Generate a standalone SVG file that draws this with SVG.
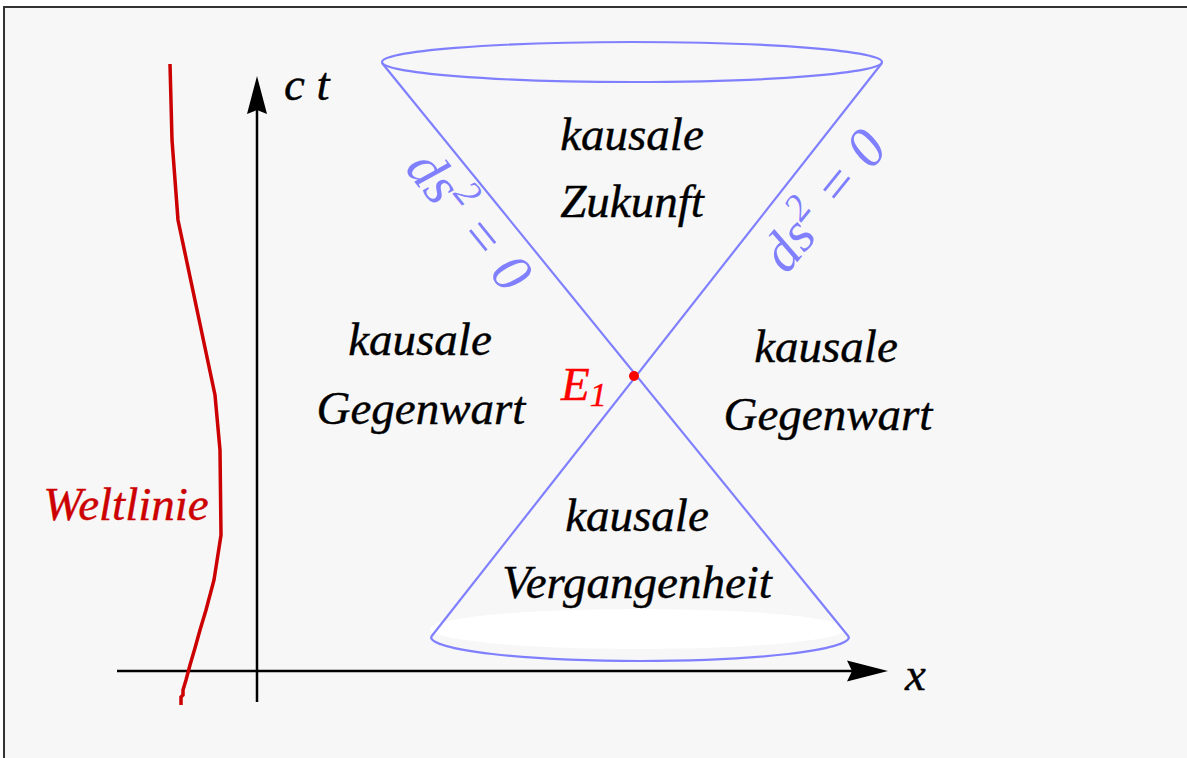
<svg xmlns="http://www.w3.org/2000/svg" width="1187" height="758" viewBox="0 0 1187 758">
<style>
.lbl{font-family:"Liberation Serif","Times New Roman",serif;font-style:italic;font-size:47px;fill:#000;stroke:#000;stroke-width:0.4}
.red{fill:#ff0000;stroke:#ff0000}
.dred{fill:#cc0000;stroke:#cc0000}
.cone{fill:none;stroke:#8080ff;stroke-width:2.2}
.ds{font-family:"Liberation Serif","Times New Roman",serif;font-style:italic;font-size:56px;fill:#8080ff}
.axis{stroke:#000;stroke-width:2.5;fill:none}
</style>
<rect x="0" y="0" width="1187" height="758" fill="#ffffff"/>
<rect x="4" y="7" width="1200" height="770" fill="#f7f7f7" stroke="#333" stroke-width="2"/>
<g id="axes">
<line class="axis" x1="257" y1="702" x2="257" y2="100"/>
<path d="M257,76 L267,114 L257,110 L247,114 Z" fill="#000"/>
<line class="axis" x1="117" y1="671" x2="860" y2="671"/>
<path d="M888,671 L847,660.5 L852,671 L847,681.5 Z" fill="#000"/>
<text class="lbl" x="284" y="100" font-size="40">c t</text>
<text class="lbl" x="905" y="690" font-size="40">x</text>
</g>
<g id="worldline">
<path d="M170,64 L172,140 L178,220 L215,395 L220,450 L221,535 L214,580 L206,610 L200,630 L195,648 L190,665 L186,680 L183,690 L183,695 L181,697 L181,705" fill="none" stroke="#cc0000" stroke-width="3.5"/>
<text class="lbl dred" x="126" y="520" text-anchor="middle" font-size="48">Weltlinie</text>
</g>
<g id="cone">
<ellipse cx="638" cy="629" rx="208" ry="20" fill="#ffffff"/>
<ellipse class="cone" cx="632" cy="62" rx="250" ry="20"/>
<path class="cone" d="M431,637 A209,24 0 0 0 849,637"/>
<line class="cone" x1="382" y1="63" x2="849" y2="637"/>
<line class="cone" x1="882" y1="63" x2="431" y2="637"/>
</g>
<g id="labels">
<text class="ds" transform="translate(455,232) rotate(51)" text-anchor="middle">ds<tspan font-size="38" dy="-22">2</tspan><tspan dy="22"> = 0</tspan></text>
<text class="ds" transform="translate(838,212) rotate(-51)" text-anchor="middle">ds<tspan font-size="38" dy="-22">2</tspan><tspan dy="22"> = 0</tspan></text>
<text class="lbl" x="632" y="150" text-anchor="middle">kausale</text>
<text class="lbl" x="632" y="217" text-anchor="middle">Zukunft</text>
<text class="lbl" x="420" y="355" text-anchor="middle">kausale</text>
<text class="lbl" x="421" y="424" text-anchor="middle">Gegenwart</text>
<text class="lbl" x="826" y="362" text-anchor="middle">kausale</text>
<text class="lbl" x="828" y="430" text-anchor="middle">Gegenwart</text>
<text class="lbl" x="637" y="531" text-anchor="middle">kausale</text>
<text class="lbl" x="637" y="598" text-anchor="middle">Vergangenheit</text>
</g>
<g id="event">
<circle cx="634" cy="376" r="5" fill="#ff0000"/>
<text class="lbl red" x="561" y="400">E<tspan font-size="34" dy="6">1</tspan></text>
</g>
</svg>
